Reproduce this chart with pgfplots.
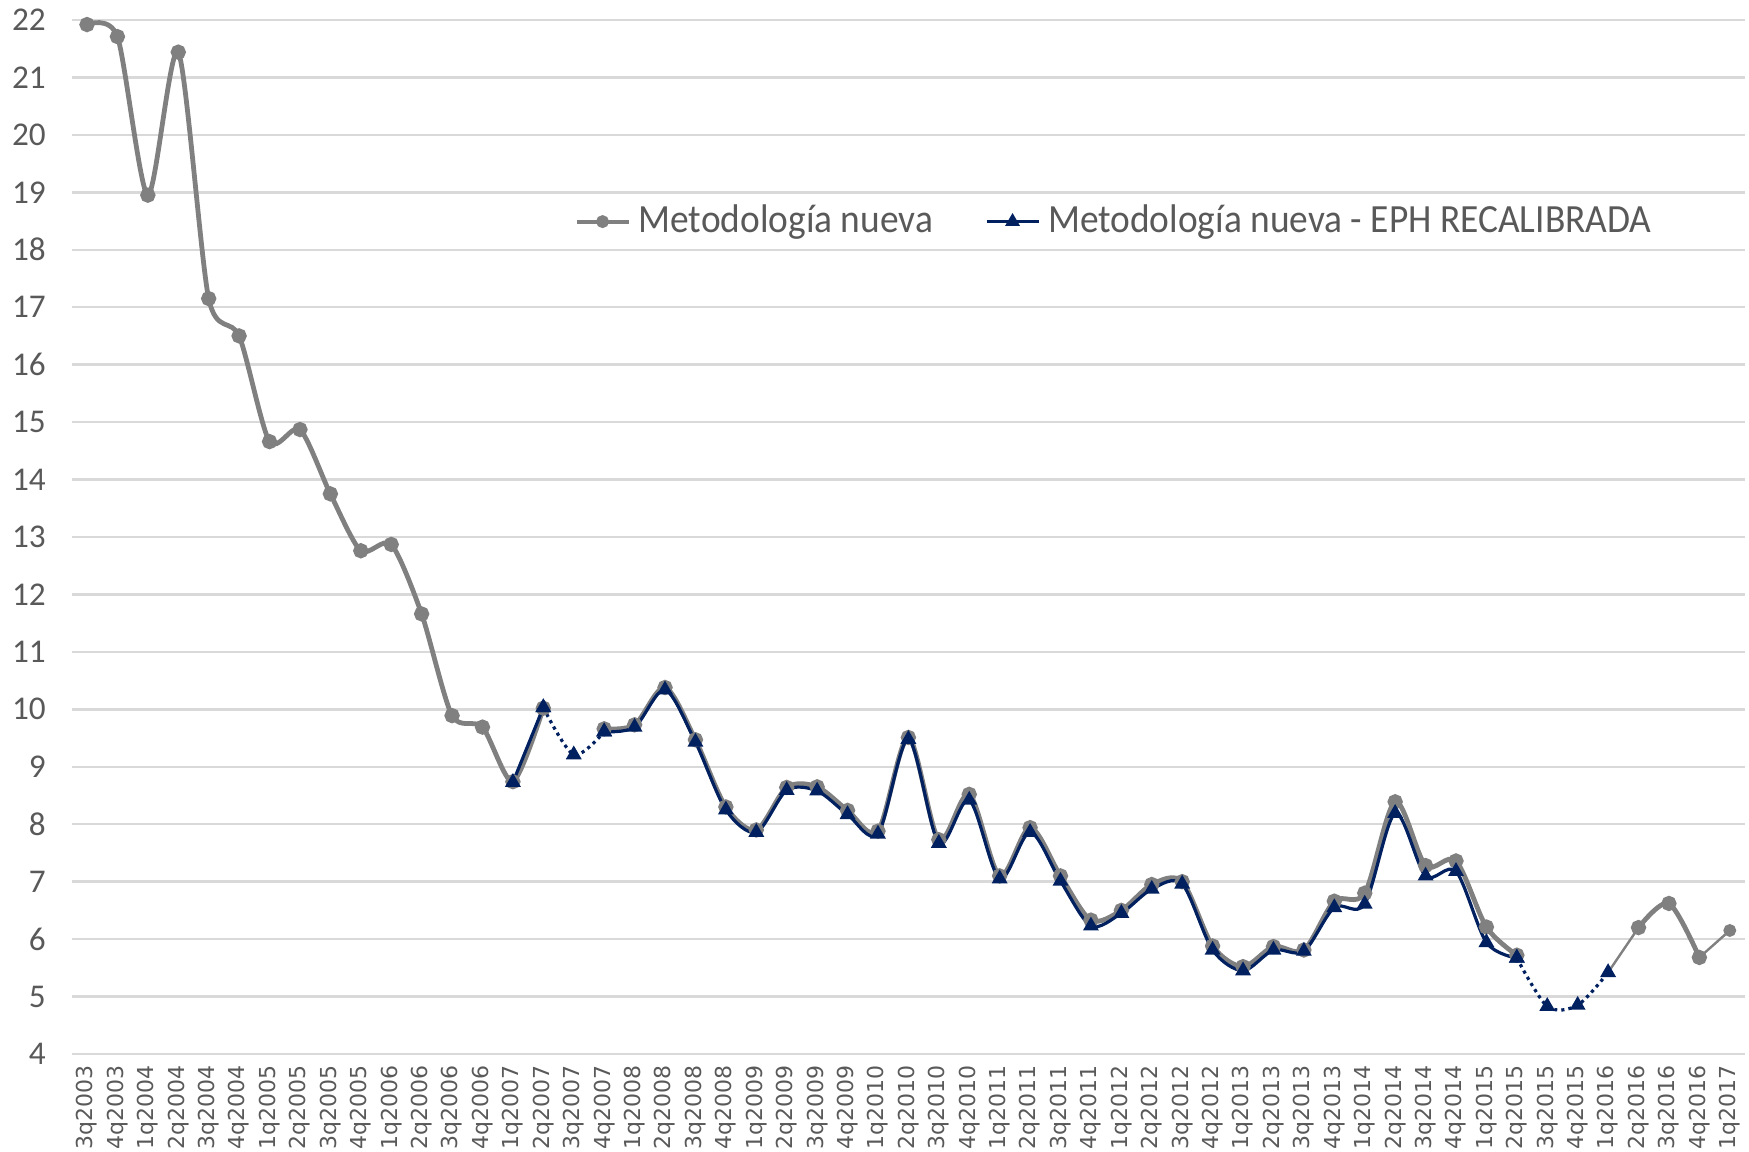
\documentclass[border=0pt]{standalone}
\usepackage{pgfplots}
\pgfplotsset{compat=1.18}
\usepackage{fontspec}
\setmainfont{Carlito}
\newfontfamily\legfont{Carlito}[FakeStretch=0.935]
\newfontfamily\xlabfont{DejaVu Sans}
\definecolor{grayline}{RGB}{128,128,128}
\definecolor{navy}{RGB}{0,32,96}
\definecolor{gridc}{RGB}{217,217,217}
\definecolor{txt}{RGB}{89,89,89}
\begin{document}
\begin{tikzpicture}
\useasboundingbox (0,0) rectangle (437.25pt,288pt);
\begin{axis}[
  at={(17.95pt,24.5pt)}, anchor=south west,
  width=418.3pt, height=258.5pt, scale only axis,
  xmin=-0.5, xmax=54.5, ymin=4, ymax=22,
  axis line style={draw=none},
  ytick={4,5,...,22},
  ymajorgrids, major grid style={gridc, line width=0.6pt},
  xtick={0,...,54},
  xticklabels={3q2003,4q2003,1q2004,2q2004,3q2004,4q2004,1q2005,2q2005,3q2005,4q2005,1q2006,2q2006,3q2006,4q2006,1q2007,2q2007,3q2007,4q2007,1q2008,2q2008,3q2008,4q2008,1q2009,2q2009,3q2009,4q2009,1q2010,2q2010,3q2010,4q2010,1q2011,2q2011,3q2011,4q2011,1q2012,2q2012,3q2012,4q2012,1q2013,2q2013,3q2013,4q2013,1q2014,2q2014,3q2014,4q2014,1q2015,2q2015,3q2015,4q2015,1q2016,2q2016,3q2016,4q2016,1q2017},
  x tick label style={rotate=90, anchor=east, font=\xlabfont\fontsize{5.5}{6}\selectfont, text=txt, inner sep=0pt},
  xtick pos=bottom, major tick length=0pt,
  xticklabel shift=2.8pt,
  y tick label style={font=\fontsize{8.3}{9}\selectfont, text=txt},
  yticklabel shift=3pt,
  /pgf/number format/assume math mode=true,
  clip=false,
  legend style={at={(0.300,0.805)}, anchor=west, draw=none, fill=none,
    font=\legfont\fontsize{10}{12}\selectfont, text=txt, inner sep=0pt,
    nodes={inner xsep=2pt},
    /tikz/every even column/.append style={column sep=11pt}},
  legend columns=2,
  legend cell align=left,
  legend image code/.code={
    \draw[#1] (0pt,0pt) -- (13pt,0pt);
    \draw[#1, only marks] plot coordinates {(6.5pt,0pt)};
  },
]
\addlegendimage{grayline, line width=1pt, mark=*, mark size=1.1pt, mark options={solid, fill=grayline}}
\addlegendentry{Metodología nueva}
\addlegendimage{navy, line width=0.75pt, mark=triangle*, mark size=1.4pt, mark options={solid, fill=navy}}
\addlegendentry{Metodología nueva - EPH RECALIBRADA}

% Gray series
\addplot[grayline, line width=1.2pt, smooth, tension=0.45, mark=*, mark size=1.3pt, mark options={fill=grayline}, forget plot] coordinates {
(0,21.92) (1,21.71) (2,18.95) (3,21.44) (4,17.15) (5,16.50) (6,14.66) (7,14.87) (8,13.75) (9,12.76) (10,12.87) (11,11.66) (12,9.89) (13,9.69) (14,8.74) (15,10.02)};
\addplot[grayline, line width=1.2pt, smooth, tension=0.5, mark=*, mark size=1.3pt, mark options={fill=grayline}, forget plot] coordinates {
(17,9.66) (18,9.73) (19,10.38) (20,9.47) (21,8.30) (22,7.90) (23,8.64) (24,8.65) (25,8.24) (26,7.88) (27,9.51) (28,7.73) (29,8.52) (30,7.10) (31,7.94) (32,7.10) (33,6.33) (34,6.50) (35,6.95) (36,7.00) (37,5.88) (38,5.52) (39,5.87) (40,5.81) (41,6.66) (42,6.80) (43,8.39) (44,7.28) (45,7.36) (46,6.21) (47,5.72)};
\addplot[grayline, line width=0.6pt, forget plot] coordinates {(50,5.42) (51,6.20)};
\addplot[grayline, line width=0.6pt, mark=*, mark size=1.3pt, mark options={fill=grayline}, forget plot] coordinates {(53,5.68) (54,6.15)};
\addplot[grayline, line width=1.2pt, smooth, tension=0.5, mark=*, mark size=1.3pt, mark options={fill=grayline}, forget plot] coordinates {
(51,6.20) (52,6.62) (53,5.68)};

% Navy series
\addplot[navy, line width=0.8pt, smooth, tension=0.5, mark=triangle*, mark size=1.5pt, mark options={fill=navy}, forget plot] coordinates {
(14,8.73) (15,10.03)};
\addplot[navy, line width=0.8pt, densely dotted, smooth, tension=0.5, mark=triangle*, mark size=1.5pt, mark options={solid, fill=navy}, forget plot] coordinates {
(15,10.03) (16,9.21) (17,9.61)};
\addplot[navy, line width=0.8pt, smooth, tension=0.5, mark=triangle*, mark size=1.5pt, mark options={fill=navy}, forget plot] coordinates {
(17,9.61) (18,9.69) (19,10.34) (20,9.43) (21,8.25) (22,7.86) (23,8.59) (24,8.58) (25,8.17) (26,7.83) (27,9.48) (28,7.67) (29,8.42) (30,7.05) (31,7.86) (32,7.01) (33,6.23) (34,6.45) (35,6.87) (36,6.96) (37,5.81) (38,5.45) (39,5.81) (40,5.79) (41,6.55) (42,6.61) (43,8.19) (44,7.10) (45,7.18) (46,5.94) (47,5.67)};
\addplot[navy, line width=0.8pt, densely dotted, smooth, tension=0.5, mark=triangle*, mark size=1.5pt, mark options={solid, fill=navy}, forget plot] coordinates {
(47,5.67) (48,4.83) (49,4.85) (50,5.42)};
\end{axis}
\end{tikzpicture}
\end{document}
